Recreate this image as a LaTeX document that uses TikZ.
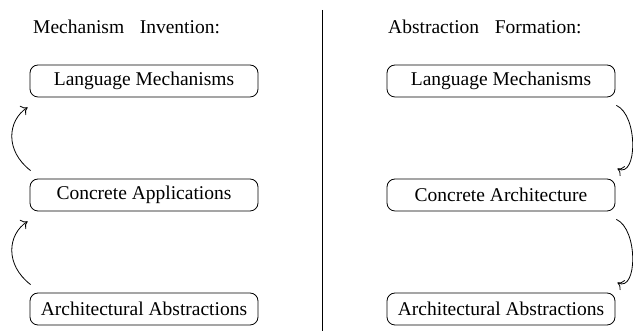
\documentclass[tikz,border=0pt]{standalone}
\usepackage{fontspec}
\setmainfont{Liberation Serif}
\usetikzlibrary{arrows.meta,calc}
\begin{document}
\begin{tikzpicture}[x=1pt,y=1pt,
  box/.style={draw,rounded corners=8pt,minimum width=228pt,minimum height=32pt,
    inner sep=0pt,line width=0.8pt,font=\fontsize{19.5}{22}\selectfont},
  ttl/.style={anchor=west,inner sep=0pt,font=\fontsize{19.5}{22}\selectfont},
  arr/.style={line width=0.8pt,-{To[length=6pt,width=11pt]}}]
\useasboundingbox (0,0) rectangle (633,331);

% titles and divider
\node[ttl] (t1) at (33,304) {Mechanism\hspace{0.8em}Invention:};
\node[ttl] (t2) at (388,304) {Abstraction\hspace{0.8em}Formation:};
\coordinate (dtop) at (322,321);
\coordinate (dbot) at (322,0);
\draw[line width=0.8pt] (dtop) -- (dbot);

% left column
\node[box] (lm1) at (144,250) {Language Mechanisms};
\node[box] (ca)  at (144,136) {Concrete Applications};
\node[box] (aa1) at (144,22)  {Architectural Abstractions};

% right column
\node[box] (lm2) at (501,250) {Language Mechanisms};
\node[box] (carch) at (501,136) {Concrete Architecture};
\node[box] (aa2) at (501,22)  {Architectural Abstractions};

% upward arrows on the left
\draw[arr] ($(ca.north west)+(1,8)$) .. controls +(-26,20) and +(-20,-13) .. ($(lm1.south west)+(-2,-10)$);
\draw[arr] ($(aa1.north west)+(1,8)$) .. controls +(-26,20) and +(-20,-13) .. ($(ca.south west)+(-2,-10)$);

% downward arrows on the right
\draw[arr] ($(lm2.south east)+(1,-8)$) .. controls +(22,-10) and +(20,-10) .. ($(carch.north east)+(2,10)$);
\draw[arr] ($(carch.south east)+(1,-8)$) .. controls +(22,-10) and +(20,-10) .. ($(aa2.north east)+(2,10)$);
\end{tikzpicture}
\end{document}
